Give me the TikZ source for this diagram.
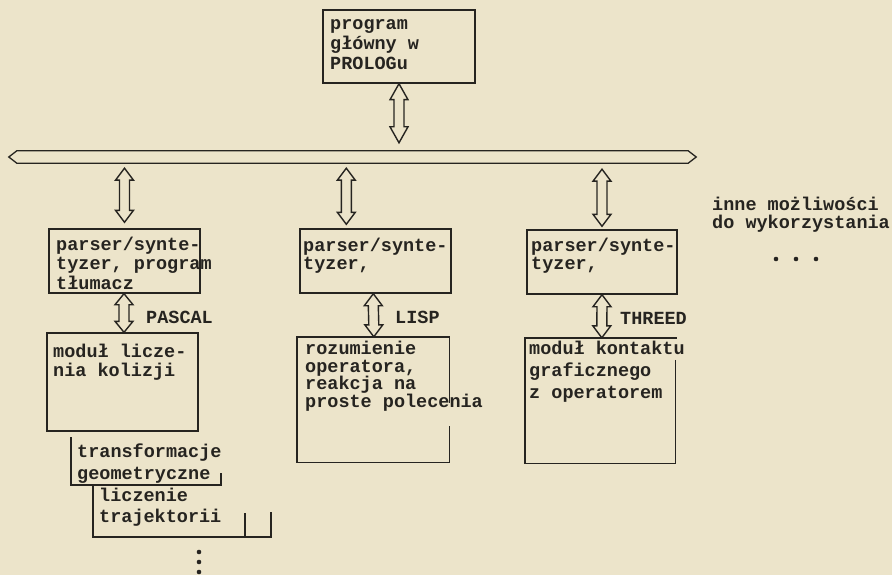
\documentclass[tikz,border=0pt]{standalone}
\usepackage{fontspec}
\setmonofont{Liberation Mono}
\usetikzlibrary{calc}
\definecolor{paper}{RGB}{236,228,202}
\definecolor{ink}{RGB}{38,36,32}
\newcommand{\tightlines}{\lineskiplimit=-30pt\relax\lineskip=0pt\relax}
\tikzset{
  ln/.style={draw=ink, line width=1.4pt, line join=miter},
  box/.style={ln, inner sep=0pt, minimum width=#1},
  hidden/.style={inner sep=0pt, minimum width=#1},
  arw/.style={draw=ink, line width=1.4pt, line join=miter},
  txt/.style={anchor=base west, inner sep=0pt, align=left, text=ink,
    font=\ttfamily\bfseries\fontsize{18.5}{#1}\selectfont\tightlines},
  dotmark/.style={fill=ink}
}
% outlined double-headed vertical arrow: #1 top tip, #2 bottom tip, #3 head length
\newcommand{\vdblarrow}[3]{%
  \draw[arw] (#1) -- ($(#1)+(9,#3)$) -- ($(#1)+(5,#3)$) -- ($(#2)+(5,-#3)$)
    -- ($(#2)+(9,-#3)$) -- (#2) -- ($(#2)+(-9,-#3)$) -- ($(#2)+(-5,-#3)$)
    -- ($(#1)+(-5,#3)$) -- ($(#1)+(-9,#3)$) -- cycle;}
\begin{document}
\begin{tikzpicture}[x=1pt,y=-1pt]
\fill[paper] (0,0) rectangle (892,575);
\useasboundingbox (0,0) rectangle (892,575);

% boxes
\node[box=152pt, minimum height=73pt] (T) at (399,46.5) {};
\node[box=151pt, minimum height=64pt] (L2) at (124.5,261) {};
\node[box=151pt, minimum height=64pt] (M2) at (375.5,261) {};
\node[box=150pt, minimum height=64pt] (R2) at (602,262) {};
\node[box=151pt, minimum height=98pt] (L3) at (122.5,382) {};
\node[hidden=152pt, minimum height=125pt] (M3) at (373,399.5) {};
\node[hidden=152pt, minimum height=125pt] (R3) at (601,400.5) {};
\draw[ln] ($(M3.north east)+(0,66)$) -- (M3.north east) -- (M3.north west)
  -- (M3.south west) -- (M3.south east) -- ($(M3.south east)+(0,-36)$);
\draw[ln] ($(R3.north east)+(-2,22)$) -- ($(R3.south east)+(-2,0)$) -- (R3.south west)
  -- (R3.north west) -- (R3.north east);

% bus
\node[hidden=671pt, minimum height=12pt] (bus) at (352.5,157) {};
\draw[ln, line width=1.3pt] (bus.north west) -- (bus.north east) -- ($(bus.east)+(8,0)$)
  -- (bus.south east) -- (bus.south west) -- ($(bus.west)+(-8,0)$) -- cycle;

% arrow end points
\coordinate (a0t) at (T.south);
\coordinate (a0b) at ($(T.south |- bus.north)+(0,-8)$);
\coordinate (a1t) at ($(bus.south -| L2.north)+(0,5)$);
\coordinate (a1b) at ($(L2.north)+(0,-6)$);
\coordinate (a2t) at ($(bus.south -| M2.north west)+(47,5)$);
\coordinate (a2b) at ($(M2.north west)+(47,-4)$);
\coordinate (a3t) at ($(bus.south -| R2.north)+(0,6)$);
\coordinate (a3b) at ($(R2.north)+(0,-3)$);
\coordinate (a4t) at ($(L2.south)+(-0.5,0)$);
\coordinate (a4b) at (L3.north -| a4t);
\coordinate (a5t) at ($(M2.south west)+(74,0)$);
\coordinate (a5b) at ($(M3.north west)+(77,0)$);
\coordinate (a6t) at (R2.south);
\coordinate (a6b) at ($(R3.north west)+(77,0)$);

\vdblarrow{a0t}{a0b}{16}
\vdblarrow{a1t}{a1b}{12}
\vdblarrow{a2t}{a2b}{12}
\vdblarrow{a3t}{a3b}{12}
\vdblarrow{a4t}{a4b}{11}
\vdblarrow{a5t}{a5b}{12}
\vdblarrow{a6t}{a6b}{12}

% texts (anchored at the baseline of the last line)
\node[txt=20] (tT) at (330,70) {program\\główny w\\PROLOGu};
\node[txt=19.5] (tL2) at (56,289) {parser/synte-\\tyzer, program\\tłumacz};
\node[txt=18] (tM2) at (303,269) {parser/synte-\\tyzer,};
\node[txt=18] (tR2) at (531,269) {parser/synte-\\tyzer,};
\node[txt=19] (tL3) at (53,376) {moduł licze-\\nia kolizji};
\node[txt=17.5] (tM3) at (305,407) {rozumienie\\operatora,\\reakcja na\\proste polecenia};
\node[txt=22] (tR3) at (529,398) {moduł kontaktu\\graficznego\\z operatorem};
\node[txt=18] (lP) at (146,323) {PASCAL};
\node[txt=18] (lL) at (395,323) {LISP};
\node[txt=18] (lT) at (620,324) {THREED};
\node[txt=18] (tX) at (712,229) {inne możliwości\\do wykorzystania};
\node[txt=22] (tTr) at (77,479) {transformacje\\geometryczne};
\node[txt=21] (tLi) at (99,522) {liczenie\\trajektorii};

% open brackets at bottom left
\draw[ln] (71,437) -- (71,485) -- (222,485);
\draw[ln] (221,473) -- (221,485);
\draw[ln] (93,485) -- (93,537) -- (272,537);
\draw[ln] (245,513) -- (245,537);
\draw[ln] (271,512) -- (271,537);

% dots
\foreach \xx in {776,796,816} \fill[dotmark] (\xx,259) circle (2.3pt);
\foreach \yy in {552,562,572} \fill[dotmark] (199,\yy) circle (2.3pt);
\end{tikzpicture}
\end{document}
